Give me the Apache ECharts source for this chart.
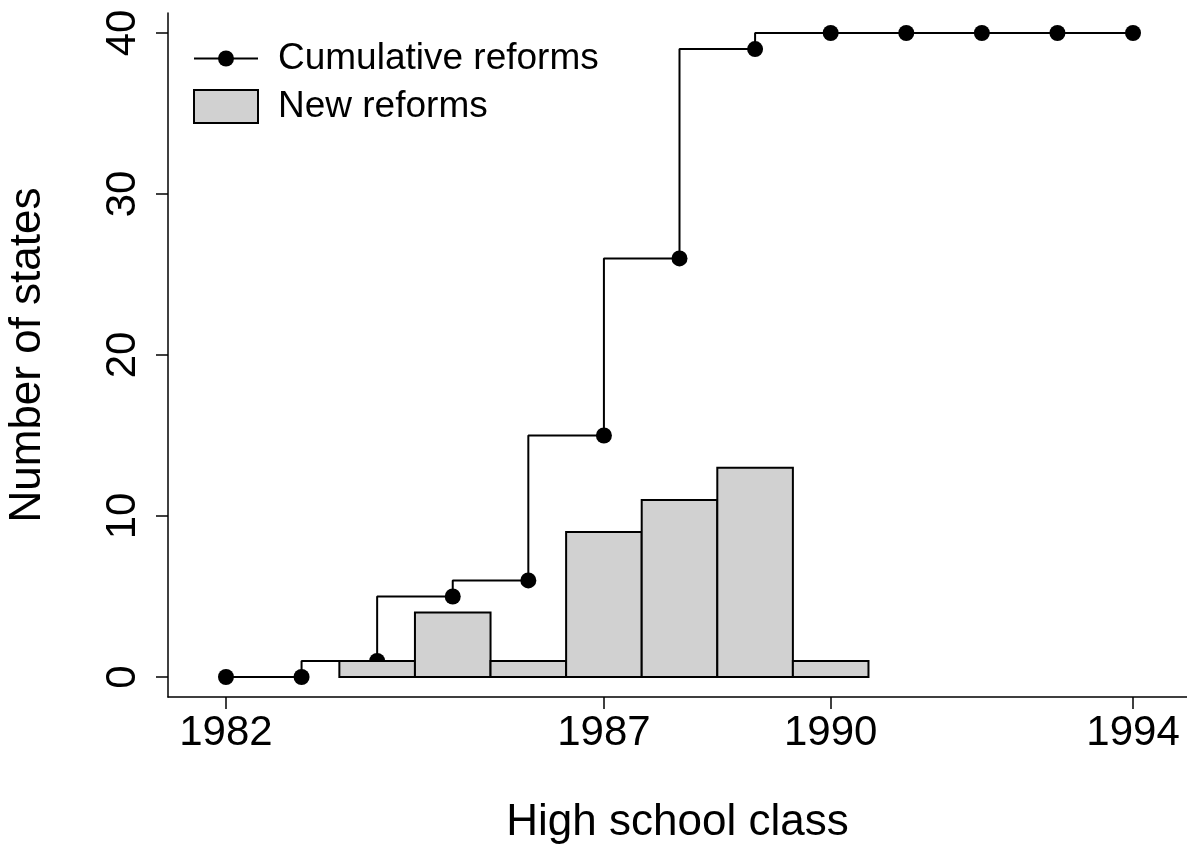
<!DOCTYPE html>
<html>
<head>
<meta charset="utf-8">
<script src="https://cdn.jsdelivr.net/npm/echarts@6/dist/echarts.min.js"></script>
<style>
html,body{margin:0;padding:0;background:#fff;}
#chart{width:1187px;height:846px;}
</style>
</head>
<body>
<div id="chart"></div>
<script>
// Data
const years = [1982, 1983, 1984, 1985, 1986, 1987, 1988, 1989, 1990, 1991, 1992, 1993, 1994];
const cumulativeReforms = [0, 0, 1, 5, 6, 15, 26, 39, 40, 40, 40, 40, 40];
const barYears = [1984, 1985, 1986, 1987, 1988, 1989, 1990];
const newReforms = [1, 4, 1, 9, 11, 13, 1];
const xTickValues = [1982, 1987, 1990, 1994];
const yTickValues = [0, 10, 20, 30, 40];

const FONT = "'Liberation Sans', Arial, Helvetica, sans-serif";
const chart = echarts.init(document.getElementById('chart'), null, {renderer: 'canvas'});

const lineData = years.map((y, i) => [y, cumulativeReforms[i]]);
const barData = barYears.map((y, i) => [y, newReforms[i]]);

const option = {
  backgroundColor: '#ffffff',
  animation: false,
  grid: {left: 168, right: 0, top: 13, bottom: 149, containLabel: false, outerBoundsMode: 'none'},
  xAxis: {
    type: 'value',
    min: 1981.233,
    max: 1994.714,
    name: 'High school class',
    nameLocation: 'middle',
    nameGap: 104,
    nameTextStyle: {fontFamily: FONT, fontSize: 44, color: '#000'},
    axisLine: {onZero: false, lineStyle: {color: '#000', width: 1.5}},
    axisTick: {show: true, length: 12, lineStyle: {color: '#000', width: 1.5}, customValues: xTickValues},
    axisLabel: {fontFamily: FONT, fontSize: 42, color: '#000', margin: 15, customValues: xTickValues,
      formatter: v => String(v)},
    splitLine: {show: false}
  },
  yAxis: {
    type: 'value',
    min: -1.242,
    max: 41.242,
    name: 'Number of states',
    nameLocation: 'middle',
    nameGap: 118,
    nameRotate: 90,
    nameTextStyle: {fontFamily: FONT, fontSize: 44, color: '#000'},
    axisLine: {onZero: false, lineStyle: {color: '#000', width: 1.5}},
    axisTick: {show: true, length: 12, lineStyle: {color: '#000', width: 1.5}, customValues: yTickValues},
    axisLabel: {fontFamily: FONT, fontSize: 42, color: '#000', margin: 24, rotate: 90, customValues: yTickValues,
      formatter: v => String(v)},
    splitLine: {show: false}
  },
  legend: [
    {
      data: [{name: 'Cumulative reforms'}],
      left: 193, top: 40, padding: 0,
      itemWidth: 64, itemHeight: 20, itemGap: 10,
      textStyle: {fontFamily: FONT, fontSize: 37, color: '#000', padding: [0, 0, 0, 15]},
      selectedMode: false
    },
    {
      data: [{name: 'New reforms', icon: 'rect'}],
      left: 193, top: 88, padding: 0,
      itemWidth: 64, itemHeight: 33,
      itemStyle: {color: '#d1d1d1', borderColor: '#000', borderWidth: 2},
      textStyle: {fontFamily: FONT, fontSize: 37, color: '#000', padding: [0, 0, 0, 15]},
      selectedMode: false
    }
  ],
  series: [
    {
      name: 'Cumulative reforms',
      type: 'line',
      step: 'start',
      data: lineData,
      symbol: 'circle',
      symbolSize: 16,
      z: 2,
      lineStyle: {color: '#000', width: 2},
      itemStyle: {color: '#000'},
      emphasis: {disabled: true}
    },
    {
      name: 'New reforms',
      type: 'custom',
      data: barData,
      z: 5,
      itemStyle: {color: '#d1d1d1', borderColor: '#000', borderWidth: 2},
      renderItem: function (params, api) {
        const x = api.value(0), v = api.value(1);
        const p0 = api.coord([x - 0.5, v]);
        const p1 = api.coord([x + 0.5, 0]);
        return {
          type: 'rect',
          z2: 100,
          shape: {x: p0[0], y: p0[1], width: p1[0] - p0[0], height: p1[1] - p0[1]},
          style: {fill: '#d1d1d1', stroke: '#000', lineWidth: 2}
        };
      },
      encode: {x: 0, y: 1}
    }
  ]
};
chart.setOption(option);
</script>
</body>
</html>
